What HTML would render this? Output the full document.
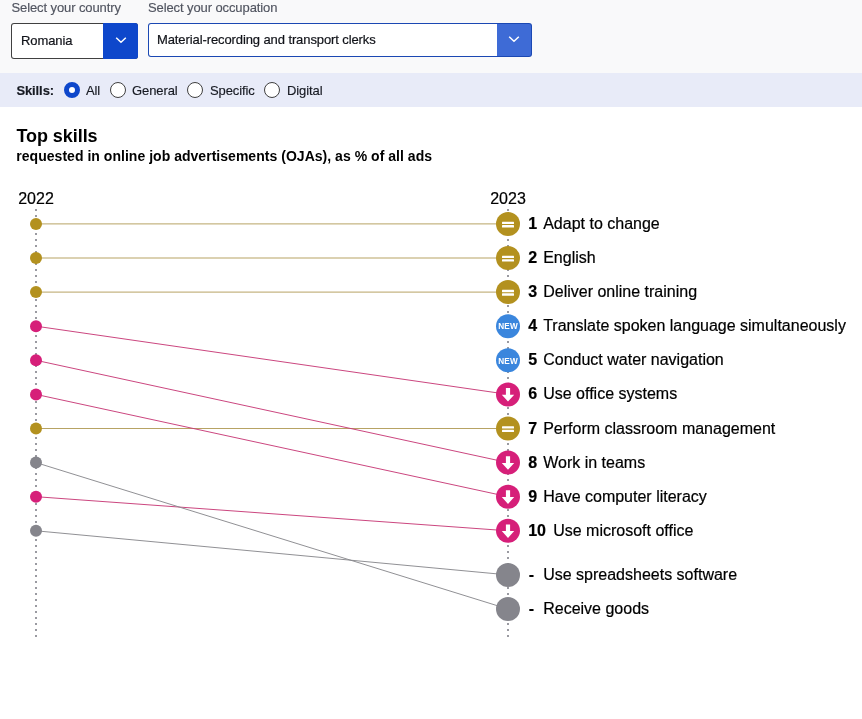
<!DOCTYPE html>
<html lang="en"><head><meta charset="utf-8"><title>Top skills</title>
<style>
html,body{margin:0;padding:0;background:#fff;}
body{width:862px;height:719px;position:relative;overflow:hidden;font-family:"Liberation Sans",Arial,Helvetica,sans-serif;color:#000;}
.top{position:absolute;left:0;top:0;width:862px;height:73px;background:#f9f9fa;}
.lab{position:absolute;top:0;letter-spacing:-0.1px;font-size:13px;line-height:15px;color:#515560;white-space:nowrap;-webkit-text-stroke:0.15px #515560;}
.sel{position:absolute;top:23px;height:35px;border-radius:3px;background:#404040;font-size:13px;overflow:hidden;}
.sel .w{position:absolute;left:1px;top:1px;bottom:1px;right:35px;background:#fff;border-radius:2px 0 0 2px;}
.sel .v{position:absolute;left:10px;top:1px;line-height:32px;letter-spacing:-0.1px;white-space:nowrap;color:#111319;-webkit-text-stroke:0.2px #111319;}
.sel .btn{position:absolute;right:0;top:0;bottom:0;width:35px;background:#0e47cb;}
.sel .btn svg{position:absolute;left:50%;top:50%;margin:-5px 0 0 -5.5px;}
.bar{position:absolute;left:0;top:73px;width:862px;height:34px;background:#e8ebf8;font-size:13px;color:#171a22;}
.bar span{position:absolute;top:0;line-height:35px;white-space:nowrap;letter-spacing:-0.1px;-webkit-text-stroke:0.15px #171a22;}
.bar b{font-weight:700;}
.rd{position:absolute;top:9px;width:16px;height:16px;box-sizing:border-box;border:1px solid #404040;border-radius:50%;background:#fff;}
.rd.on{border:5px solid #0e47cb;}
h1{position:absolute;left:16.4px;letter-spacing:-0.05px;top:125px;margin:0;font-size:18px;line-height:22px;font-weight:700;white-space:nowrap;}
h2{position:absolute;left:16.3px;top:148px;margin:0;font-size:14px;line-height:16px;font-weight:700;white-space:nowrap;letter-spacing:0.03px;}
.chart{position:absolute;left:0;top:180px;}
.chart text{font-family:"Liberation Sans",Arial,Helvetica,sans-serif;}
.yr{font-size:16px;fill:#000;stroke:#000;stroke-width:0.2px;}
.lbl{font-size:16px;fill:#000;stroke:#000;stroke-width:0.2px;}
.num{font-weight:700;}
.new{font-size:8.2px;font-weight:700;fill:#fff;letter-spacing:0.2px;}
</style></head><body>
<div class="top">
 <div class="lab" style="left:11.5px">Select your country</div>
 <div class="lab" style="left:148px">Select your occupation</div>
 <div class="sel" style="left:11px;width:127px;height:36px"><i class="w"></i><span class="v" style="line-height:34px">Romania</span><span class="btn"><svg width="12" height="8" viewBox="0 0 12 8"><path d="M1.2 1.7L6 6.3L10.8 1.7" fill="none" stroke="#fff" stroke-width="1.5"/></svg></span></div>
 <div class="sel" style="left:148px;width:384px;background:#1b48b3;height:34px"><i class="w"></i><span class="v" style="left:9px">Material-recording and transport clerks</span><span class="btn" style="background:#3e6bd6;right:1px;top:1px;bottom:1px;width:34px;border-radius:0 2px 2px 0"><svg style="margin-left:-6.5px" width="12" height="8" viewBox="0 0 12 8"><path d="M1.2 1.7L6 6.3L10.8 1.7" fill="none" stroke="#fff" stroke-width="1.5"/></svg></span></div>
</div>
<div class="bar">
 <span style="left:16.4px"><b>Skills:</b></span>
 <i class="rd on" style="left:64px"></i><span style="left:86px">All</span>
 <i class="rd" style="left:110px"></i><span style="left:132px">General</span>
 <i class="rd" style="left:187px"></i><span style="left:210px">Specific</span>
 <i class="rd" style="left:264px"></i><span style="left:287px">Digital</span>
</div>
<h1>Top skills</h1>
<h2>requested in online job advertisements (OJAs), as % of all ads</h2>
<svg class="chart" width="862" height="480" viewBox="0 180 862 480">
<line x1="36" y1="209" x2="36" y2="637" stroke="#9a9aa1" stroke-width="2" stroke-dasharray="2 4"/>
<line x1="508" y1="209" x2="508" y2="637" stroke="#9a9aa1" stroke-width="2" stroke-dasharray="2 4"/>
<text x="36" y="204" text-anchor="middle" class="yr">2022</text>
<text x="508" y="204" text-anchor="middle" class="yr">2023</text>
<line x1="36" y1="223.9" x2="508" y2="223.9" stroke="#b39e5c" stroke-width="1" stroke-opacity="0.95"/>
<line x1="36" y1="258.0" x2="508" y2="258.0" stroke="#b39e5c" stroke-width="1" stroke-opacity="0.95"/>
<line x1="36" y1="292.1" x2="508" y2="292.1" stroke="#b39e5c" stroke-width="1" stroke-opacity="0.95"/>
<line x1="36" y1="326.2" x2="508" y2="394.4" stroke="#c83c78" stroke-width="1" stroke-opacity="0.95"/>
<line x1="36" y1="428.5" x2="508" y2="428.5" stroke="#b39e5c" stroke-width="1" stroke-opacity="0.95"/>
<line x1="36" y1="360.3" x2="508" y2="462.6" stroke="#c83c78" stroke-width="1" stroke-opacity="0.95"/>
<line x1="36" y1="394.4" x2="508" y2="496.7" stroke="#c83c78" stroke-width="1" stroke-opacity="0.95"/>
<line x1="36" y1="496.7" x2="508" y2="530.8" stroke="#c83c78" stroke-width="1" stroke-opacity="0.95"/>
<line x1="36" y1="530.8" x2="508" y2="574.9" stroke="#8a8a8e" stroke-width="1" stroke-opacity="0.95"/>
<line x1="36" y1="462.6" x2="508" y2="609.0" stroke="#8a8a8e" stroke-width="1" stroke-opacity="0.95"/>
<circle cx="36" cy="223.9" r="6" fill="#b3911f"/>
<circle cx="36" cy="258.0" r="6" fill="#b3911f"/>
<circle cx="36" cy="292.1" r="6" fill="#b3911f"/>
<circle cx="36" cy="326.2" r="6" fill="#d61f79"/>
<circle cx="36" cy="428.5" r="6" fill="#b3911f"/>
<circle cx="36" cy="360.3" r="6" fill="#d61f79"/>
<circle cx="36" cy="394.4" r="6" fill="#d61f79"/>
<circle cx="36" cy="496.7" r="6" fill="#d61f79"/>
<circle cx="36" cy="530.8" r="6" fill="#85858c"/>
<circle cx="36" cy="462.6" r="6" fill="#85858c"/>
<circle cx="508" cy="223.9" r="12" fill="#b3911f"/>
<rect x="502" y="221.65" width="12" height="2.3" rx="0.5" fill="#fff"/><rect x="502" y="225.05" width="12" height="2.4" rx="0.5" fill="#fff"/>
<text y="229" class="lbl"><tspan x="528.2" class="num">1</tspan><tspan x="543.2">Adapt to change</tspan></text>
<circle cx="508" cy="258.0" r="12" fill="#b3911f"/>
<rect x="502" y="255.75" width="12" height="2.3" rx="0.5" fill="#fff"/><rect x="502" y="259.15" width="12" height="2.4" rx="0.5" fill="#fff"/>
<text y="263" class="lbl"><tspan x="528.2" class="num">2</tspan><tspan x="543.2">English</tspan></text>
<circle cx="508" cy="292.1" r="12" fill="#b3911f"/>
<rect x="502" y="289.85" width="12" height="2.3" rx="0.5" fill="#fff"/><rect x="502" y="293.25" width="12" height="2.4" rx="0.5" fill="#fff"/>
<text y="297" class="lbl"><tspan x="528.2" class="num">3</tspan><tspan x="543.2">Deliver online training</tspan></text>
<circle cx="508" cy="326.2" r="12" fill="#3a86dd"/>
<text x="508" y="329.40" text-anchor="middle" class="new">NEW</text>
<text y="331" class="lbl"><tspan x="528.2" class="num">4</tspan><tspan x="543.2">Translate spoken language simultaneously</tspan></text>
<circle cx="508" cy="360.3" r="12" fill="#3a86dd"/>
<text x="508" y="363.50" text-anchor="middle" class="new">NEW</text>
<text y="365" class="lbl"><tspan x="528.2" class="num">5</tspan><tspan x="543.2">Conduct water navigation</tspan></text>
<circle cx="508" cy="394.4" r="12" fill="#d61f79"/>
<path d="M505.9 388.00h4.2v6.7h4.1l-6.2 6.9l-6.2 -6.9h4.1z" fill="#fff"/>
<text y="399" class="lbl"><tspan x="528.2" class="num">6</tspan><tspan x="543.2">Use office systems</tspan></text>
<circle cx="508" cy="428.5" r="12" fill="#b3911f"/>
<rect x="502" y="426.25" width="12" height="2.3" rx="0.5" fill="#fff"/><rect x="502" y="429.65" width="12" height="2.4" rx="0.5" fill="#fff"/>
<text y="434" class="lbl"><tspan x="528.2" class="num">7</tspan><tspan x="543.2">Perform classroom management</tspan></text>
<circle cx="508" cy="462.6" r="12" fill="#d61f79"/>
<path d="M505.9 456.20h4.2v6.7h4.1l-6.2 6.9l-6.2 -6.9h4.1z" fill="#fff"/>
<text y="468" class="lbl"><tspan x="528.2" class="num">8</tspan><tspan x="543.2">Work in teams</tspan></text>
<circle cx="508" cy="496.7" r="12" fill="#d61f79"/>
<path d="M505.9 490.30h4.2v6.7h4.1l-6.2 6.9l-6.2 -6.9h4.1z" fill="#fff"/>
<text y="502" class="lbl"><tspan x="528.2" class="num">9</tspan><tspan x="543.2">Have computer literacy</tspan></text>
<circle cx="508" cy="530.8" r="12" fill="#d61f79"/>
<path d="M505.9 524.40h4.2v6.7h4.1l-6.2 6.9l-6.2 -6.9h4.1z" fill="#fff"/>
<text y="536" class="lbl"><tspan x="528.2" class="num">10</tspan><tspan x="553.2">Use microsoft office</tspan></text>
<circle cx="508" cy="574.9" r="12" fill="#85858c"/>
<text y="580" class="lbl"><tspan x="528.8" class="num">-</tspan><tspan x="543.2">Use spreadsheets software</tspan></text>
<circle cx="508" cy="609.0" r="12" fill="#85858c"/>
<text y="614" class="lbl"><tspan x="528.8" class="num">-</tspan><tspan x="543.2">Receive goods</tspan></text>
</svg>
</body></html>
